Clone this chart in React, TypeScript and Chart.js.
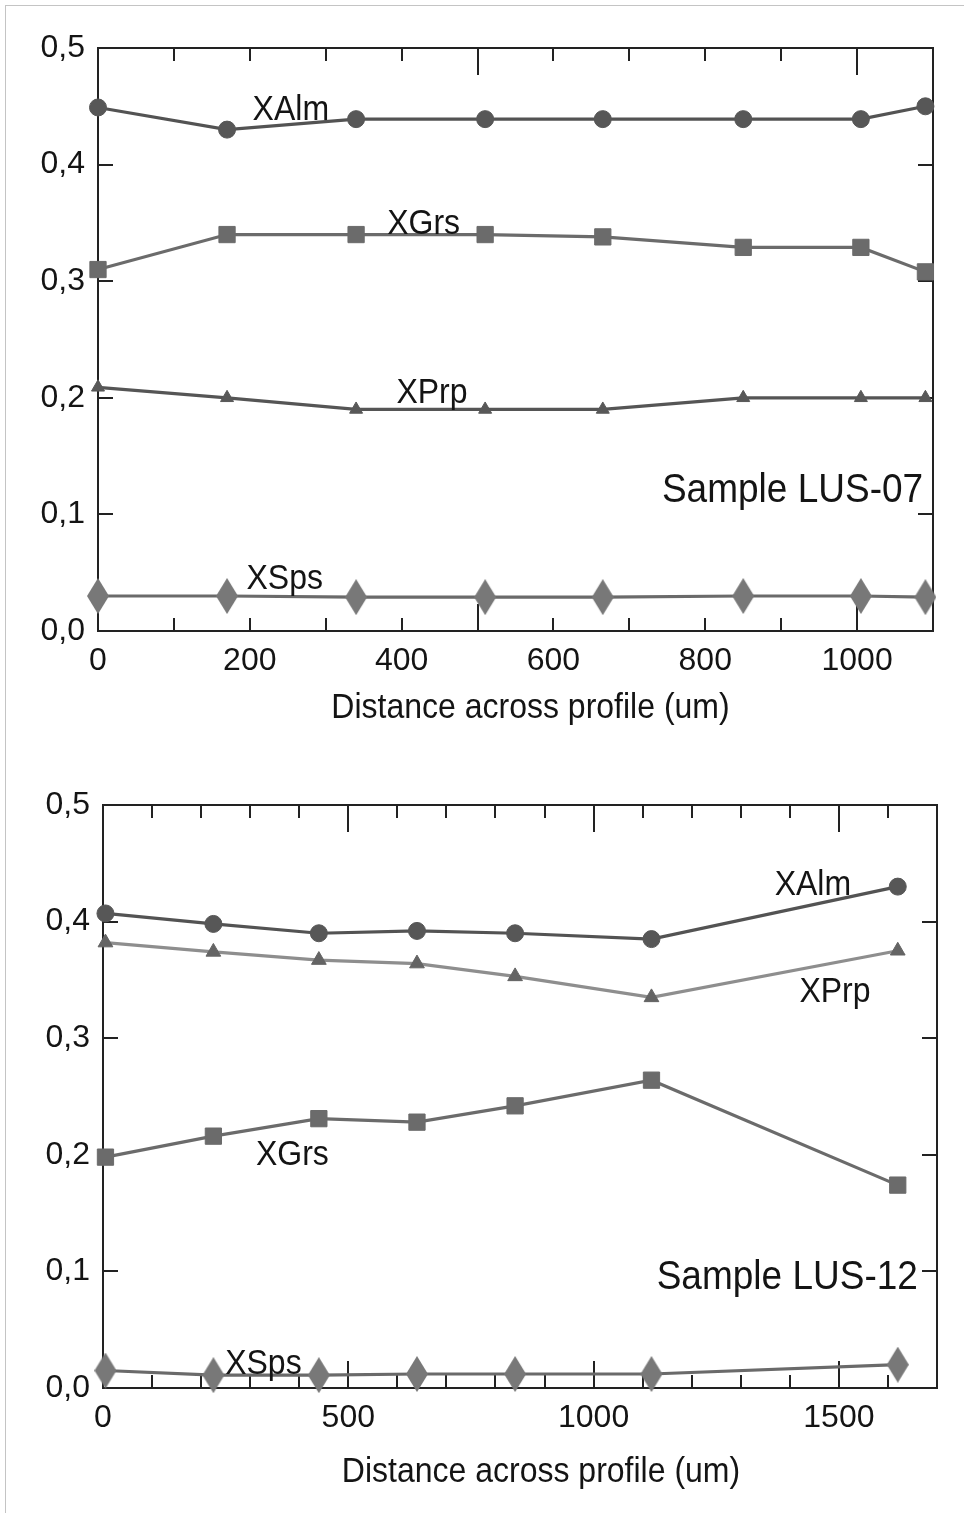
import React, { useEffect, useRef } from 'react';
import { Chart, registerables } from 'chart.js';

Chart.register(...registerables);

// ---------- Data ----------
// Sample LUS-07
const lus07Distance = [0, 170, 340, 510, 665, 850, 1005, 1090];
const lus07XAlm = [0.449, 0.430, 0.439, 0.439, 0.439, 0.439, 0.439, 0.450];
const lus07XGrs = [0.310, 0.340, 0.340, 0.340, 0.338, 0.329, 0.329, 0.308];
const lus07XPrp = [0.209, 0.200, 0.190, 0.190, 0.190, 0.200, 0.200, 0.200];
const lus07XSps = [0.030, 0.030, 0.029, 0.029, 0.029, 0.030, 0.030, 0.029];

// Sample LUS-12
const lus12Distance = [5, 225, 440, 640, 840, 1118, 1620];
const lus12XAlm = [0.407, 0.398, 0.390, 0.392, 0.390, 0.385, 0.430];
const lus12XPrp = [0.382, 0.374, 0.367, 0.364, 0.353, 0.335, 0.375];
const lus12XGrs = [0.198, 0.216, 0.231, 0.228, 0.242, 0.264, 0.174];
const lus12XSps = [0.015, 0.011, 0.011, 0.012, 0.012, 0.012, 0.020];

// Axes / ticks
const yTickValues = [0, 0.1, 0.2, 0.3, 0.4, 0.5];
const yTickLabels = ['0,0', '0,1', '0,2', '0,3', '0,4', '0,5'];

const lus07XMax = 1100;
const lus07XLabelTicks = [0, 200, 400, 600, 800, 1000];
const lus07XMinorTicks = [0, 100, 200, 300, 400, 500, 600, 700, 800, 900, 1000, 1100];
const lus07XMajorTicks = [0, 500, 1000];

const lus12XMax = 1700;
const lus12XLabelTicks = [0, 500, 1000, 1500];
const lus12XMinorTicks = [0, 100, 200, 300, 400, 500, 600, 700, 800, 900, 1000, 1100, 1200, 1300, 1400, 1500, 1600, 1700];
const lus12XMajorTicks = [0, 500, 1000, 1500];

const xAxisTitle = 'Distance across profile (um)';

// In-plot annotations (anchored in data units)
const lus07Annotations = [
  { text: 'XAlm', x: 254, y: 0.449, align: 'center' },
  { text: 'XGrs', x: 429, y: 0.351, align: 'center' },
  { text: 'XPrp', x: 440, y: 0.206, align: 'center' },
  { text: 'XSps', x: 246, y: 0.047, align: 'center' },
];
const lus07SampleLabel = { text: 'Sample LUS-07', x: 1087, y: 0.123 };

const lus12Annotations = [
  { text: 'XAlm', x: 1447, y: 0.4335, align: 'center' },
  { text: 'XPrp', x: 1492, y: 0.342, align: 'center' },
  { text: 'XGrs', x: 386, y: 0.202, align: 'center' },
  { text: 'XSps', x: 327, y: 0.0223, align: 'center' },
];
const lus12SampleLabel = { text: 'Sample LUS-12', x: 1661, y: 0.097 };

// ---------- Styling ----------
const FONT = "'Liberation Sans', Arial, Helvetica, sans-serif";
const TEXT_COLOR = '#141414';

function makeDiamond(w: number, h: number, color: string) {
  const c = document.createElement('canvas');
  c.width = w;
  c.height = h;
  const g = c.getContext('2d')!;
  g.fillStyle = color;
  g.beginPath();
  g.moveTo(w / 2, 0);
  g.lineTo(w, h / 2);
  g.lineTo(w / 2, h);
  g.lineTo(0, h / 2);
  g.closePath();
  g.fill();
  return c;
}

type Cfg = {
  width: number;
  height: number;
  area: { left: number; top: number; right: number; bottom: number };
  xMax: number;
  xLabelTicks: number[];
  xMinor: number[];
  xMajor: number[];
  annotations: { text: string; x: number; y: number; align: string }[];
  sample: { text: string; x: number; y: number };
  titleShift: number;
  titleOffset: number;
  datasets: any[];
};

function drawStretchedText(ctx: CanvasRenderingContext2D, text: string, x: number, capCenterY: number, size: number) {
  // slightly taller glyphs, like the reference
  const sy = 1.08;
  ctx.save();
  ctx.translate(x, capCenterY);
  ctx.scale(1, sy);
  ctx.fillText(text, 0, size * 0.358);
  ctx.restore();
}

function makePlugin(cfg: Cfg) {
  return {
    id: 'frameAndLabels',
    beforeDatasetsDraw(chart: any) {
      const { ctx, chartArea: a, scales } = chart;
      const x = scales.x;
      const y = scales.y;
      ctx.save();
      ctx.strokeStyle = '#222';
      ctx.lineWidth = 2;
      ctx.strokeRect(a.left, a.top, a.right - a.left, a.bottom - a.top);
      ctx.beginPath();
      for (const v of cfg.xMinor) {
        const px = Math.round(x.getPixelForValue(v));
        const len = cfg.xMajor.includes(v) ? 27 : 13;
        ctx.moveTo(px, a.bottom);
        ctx.lineTo(px, a.bottom - len);
        ctx.moveTo(px, a.top);
        ctx.lineTo(px, a.top + len);
      }
      for (const v of yTickValues) {
        const py = Math.round(y.getPixelForValue(v));
        ctx.moveTo(a.left, py);
        ctx.lineTo(a.left + 15, py);
        ctx.moveTo(a.right, py);
        ctx.lineTo(a.right - 15, py);
      }
      ctx.stroke();
      ctx.restore();
    },
    afterDatasetsDraw(chart: any) {
      const { ctx, chartArea: a, scales } = chart;
      const x = scales.x;
      const y = scales.y;
      ctx.save();
      ctx.fillStyle = TEXT_COLOR;
      ctx.textBaseline = 'alphabetic';
      ctx.font = `32px ${FONT}`;
      for (const an of cfg.annotations) {
        ctx.textAlign = an.align as CanvasTextAlign;
        drawStretchedText(ctx, an.text, x.getPixelForValue(an.x), y.getPixelForValue(an.y), 32);
      }
      ctx.font = `37px ${FONT}`;
      ctx.textAlign = 'right';
      drawStretchedText(ctx, cfg.sample.text, x.getPixelForValue(cfg.sample.x), y.getPixelForValue(cfg.sample.y), 37);
      ctx.font = `32px ${FONT}`;
      ctx.textAlign = 'center';
      drawStretchedText(ctx, xAxisTitle, (a.left + a.right) / 2 + cfg.titleShift, a.bottom + cfg.titleOffset, 32);
      ctx.restore();
    },
  };
}

function ProfileChart({ cfg, top }: { cfg: Cfg; top: number }) {
  const ref = useRef<HTMLCanvasElement | null>(null);
  useEffect(() => {
    const canvas = ref.current!;
    const chart = new Chart(canvas, {
      type: 'line',
      data: { datasets: cfg.datasets },
      plugins: [makePlugin(cfg)],
      options: {
        animation: false,
        responsive: false,
        devicePixelRatio: 1,
        layout: {
          padding: {
            left: 0,
            top: cfg.area.top,
            right: cfg.width - cfg.area.right,
            bottom: 0,
          },
        },
        plugins: { legend: { display: false }, tooltip: { enabled: false }, title: { display: false } },
        scales: {
          x: {
            type: 'linear',
            position: 'bottom',
            min: 0,
            max: cfg.xMax,
            grid: { display: false, drawTicks: false },
            border: { display: false },
            afterBuildTicks: (s: any) => {
              s.ticks = cfg.xLabelTicks.map((v) => ({ value: v }));
            },
            afterFit: (s: any) => {
              s.height = cfg.height - cfg.area.bottom;
            },
            ticks: {
              font: { family: FONT, size: 32 },
              color: TEXT_COLOR,
              padding: 11,
              maxRotation: 0,
              autoSkip: false,
              callback: (v: any) => String(v),
            },
          },
          y: {
            type: 'linear',
            position: 'left',
            min: 0,
            max: 0.5,
            grid: { display: false, drawTicks: false },
            border: { display: false },
            afterBuildTicks: (s: any) => {
              s.ticks = yTickValues.map((v) => ({ value: v }));
            },
            afterFit: (s: any) => {
              s.width = cfg.area.left;
            },
            ticks: {
              font: { family: FONT, size: 32 },
              color: TEXT_COLOR,
              padding: 13,
              autoSkip: false,
              callback: (_v: any, i: number) => yTickLabels[i],
            },
          },
        },
        elements: { line: { tension: 0 } },
      },
    } as any);
    return () => chart.destroy();
  }, []);
  return (
    <canvas
      ref={ref}
      width={cfg.width}
      height={cfg.height}
      style={{ position: 'absolute', left: 0, top, width: cfg.width, height: cfg.height }}
    />
  );
}

function series(
  xs: number[],
  ys: number[],
  lineColor: string,
  pointColor: string,
  pointStyle: any,
  radius: number
) {
  return {
    data: xs.map((v, i) => ({ x: v, y: ys[i] })),
    borderColor: lineColor,
    borderWidth: 3.2,
    backgroundColor: pointColor,
    pointBackgroundColor: pointColor,
    pointBorderColor: pointColor,
    pointBorderWidth: 1,
    pointStyle,
    pointRadius: radius,
    fill: false,
    clip: false,
  };
}

export default function App() {
  const diamond = makeDiamond(22, 36, '#787878');

  const topCfg: Cfg = {
    width: 964,
    height: 760,
    area: { left: 98, top: 48, right: 933, bottom: 631 },
    xMax: lus07XMax,
    xLabelTicks: lus07XLabelTicks,
    xMinor: lus07XMinorTicks,
    xMajor: lus07XMajorTicks,
    annotations: lus07Annotations,
    sample: lus07SampleLabel,
    titleShift: 15,
    titleOffset: 75,
    datasets: [
      series(lus07Distance, lus07XSps, '#6a6a6a', '#787878', diamond, 11),
      series(lus07Distance, lus07XPrp, '#555555', '#585858', 'triangle', 7.5),
      series(lus07Distance, lus07XGrs, '#6b6b6b', '#6b6b6b', 'rect', 11.5),
      series(lus07Distance, lus07XAlm, '#535353', '#575757', 'circle', 8.5),
    ],
  };

  const bottomCfg: Cfg = {
    width: 964,
    height: 753,
    area: { left: 103, top: 45, right: 937, bottom: 628 },
    xMax: lus12XMax,
    xLabelTicks: lus12XLabelTicks,
    xMinor: lus12XMinorTicks,
    xMajor: lus12XMajorTicks,
    annotations: lus12Annotations,
    sample: lus12SampleLabel,
    titleShift: 21,
    titleOffset: 82,
    datasets: [
      series(lus12Distance, lus12XSps, '#6a6a6a', '#787878', diamond, 11),
      series(lus12Distance, lus12XGrs, '#6b6b6b', '#6b6b6b', 'rect', 11.5),
      series(lus12Distance, lus12XPrp, '#8e8e8e', '#646464', 'triangle', 8.5),
      series(lus12Distance, lus12XAlm, '#535353', '#575757', 'circle', 8.5),
    ],
  };

  return (
    <div
      style={{
        position: 'fixed',
        left: 0,
        top: 0,
        width: 964,
        height: 1513,
        background: '#ffffff',
        overflow: 'hidden',
      }}
    >
      <div
        style={{
          position: 'absolute',
          left: 5,
          top: 5,
          width: 1000,
          height: 1600,
          borderLeft: '1px solid #c4c4c4',
          borderTop: '1px solid #c4c4c4',
        }}
      />
      <ProfileChart cfg={topCfg} top={0} />
      <ProfileChart cfg={bottomCfg} top={760} />
    </div>
  );
}
